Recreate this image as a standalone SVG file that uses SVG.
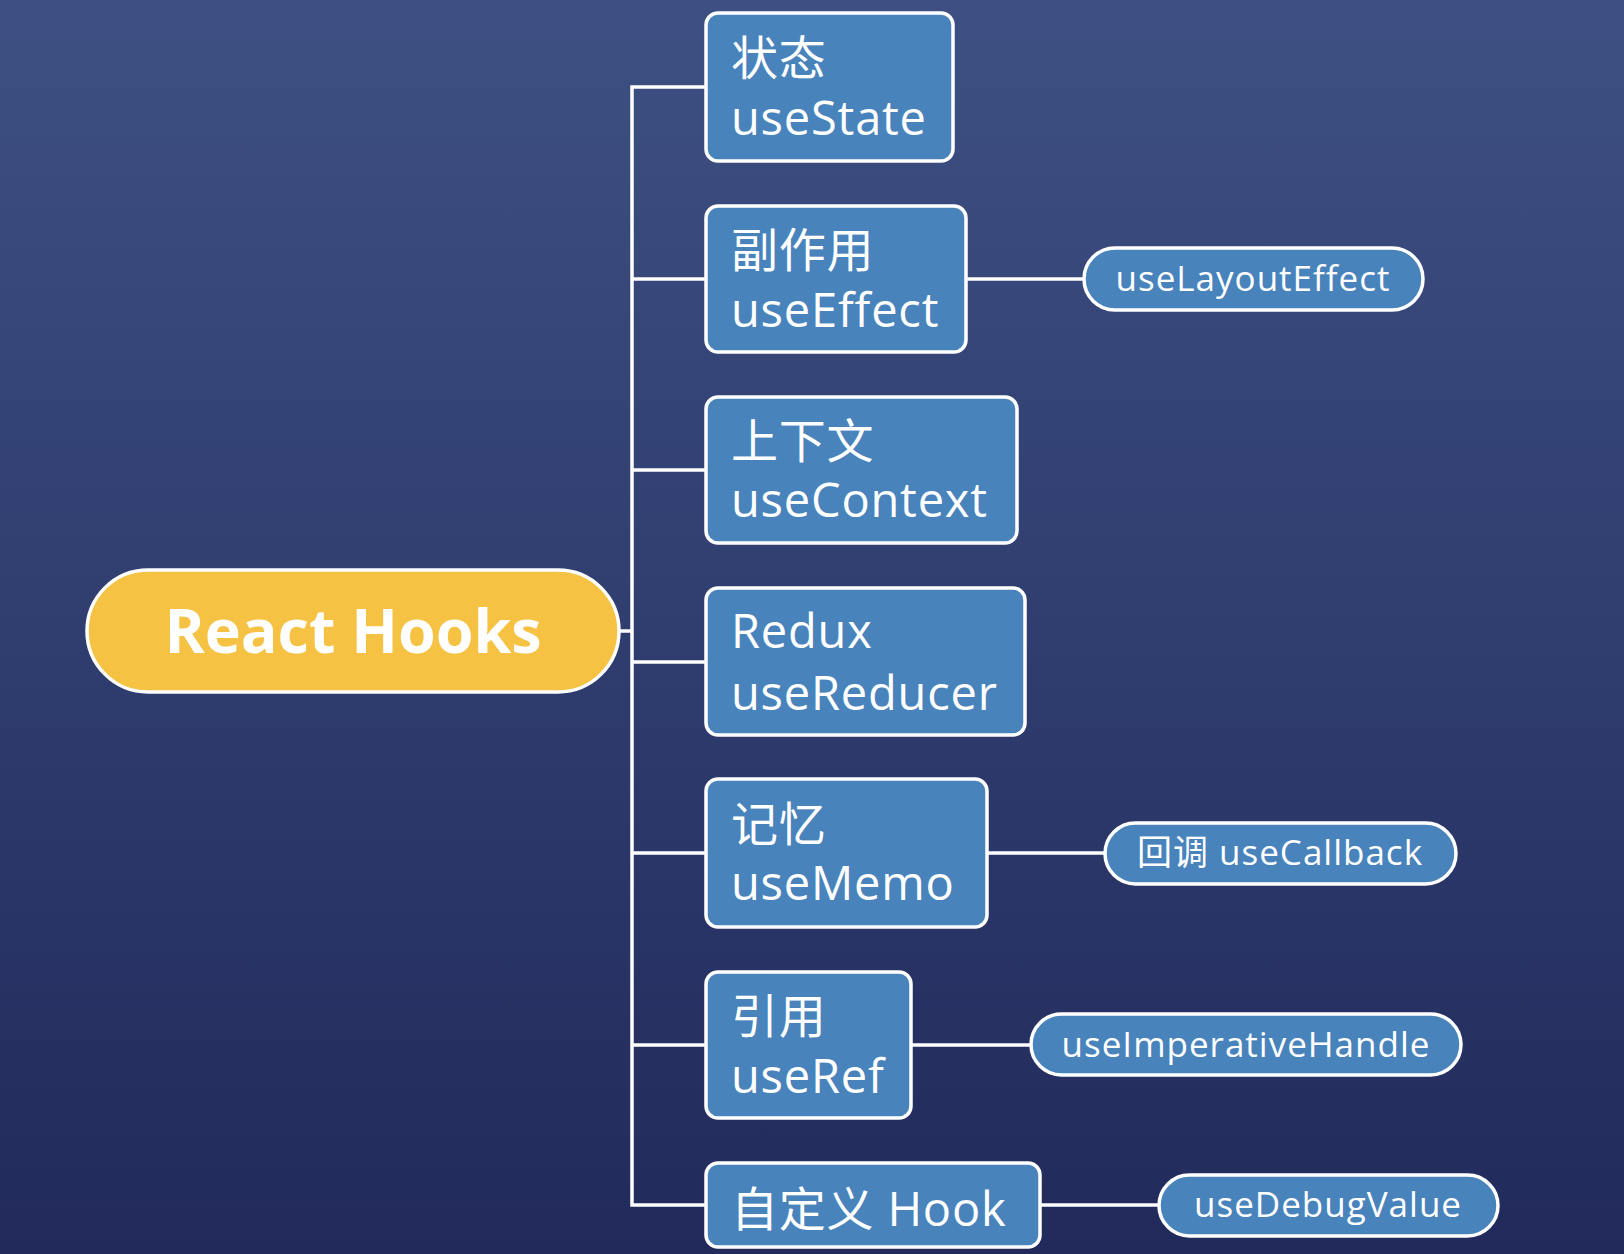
<svg xmlns="http://www.w3.org/2000/svg" width="1624" height="1254" viewBox="0 0 1624 1254">
<defs>
<linearGradient id="bg" x1="0" y1="0" x2="0" y2="1">
<stop offset="0" stop-color="#3e5083"/>
<stop offset="1" stop-color="#212a5b"/>
</linearGradient>
<style>
.box{fill:#4883bc;stroke:#ffffff;stroke-width:3.5}
.pill{fill:#4883bc;stroke:#ffffff;stroke-width:3.5}
.root{fill:#f5c244;stroke:#ffffff;stroke-width:3.5}
.conn{fill:none;stroke:#ffffff;stroke-width:3.5}
.t{fill:#ffffff;font-family:"Open Sans","Noto Sans CJK SC",sans-serif;font-size:47px;letter-spacing:0.8px}
.s{fill:#ffffff;font-family:"Open Sans","Noto Sans CJK SC",sans-serif;font-size:35px;letter-spacing:1px;text-anchor:middle}
.r{fill:#ffffff;font-family:"Open Sans","Noto Sans CJK SC",sans-serif;font-size:61px;font-weight:bold;text-anchor:middle}
</style>
</defs>
<rect x="0" y="0" width="1624" height="1254" fill="url(#bg)"/>
<g id="connectors">
<path class="conn" d="M619,631 H632 M706,87 H632 V1205 H706 M632,279 H706 M632,470 H706 M632,662 H706 M632,853 H706 M632,1045 H706"/>
<path class="conn" d="M966,279 H1084 M987,853 H1105 M911,1045 H1031 M1040,1205 H1159"/>
</g>
<g id="root">
<rect class="root" x="87" y="570" width="532" height="122" rx="61"/>
<text class="r" x="353" y="653">React Hooks</text>
</g>
<g id="useState">
<rect class="box" x="706" y="13" width="247" height="148" rx="12"/>
<text class="t" x="731" y="75">状态</text>
<text class="t" x="731" y="135">useState</text>
</g>
<g id="useEffect">
<rect class="box" x="706" y="206" width="260" height="146" rx="12"/>
<text class="t" x="731" y="267">副作用</text>
<text class="t" x="731" y="327">useEffect</text>
</g>
<g id="useContext">
<rect class="box" x="706" y="397" width="311" height="146" rx="12"/>
<text class="t" x="731" y="458">上下文</text>
<text class="t" x="731" y="517">useContext</text>
</g>
<g id="useReducer">
<rect class="box" x="706" y="588" width="319" height="147" rx="12"/>
<text class="t" x="731" y="648">Redux</text>
<text class="t" x="731" y="710">useReducer</text>
</g>
<g id="useMemo">
<rect class="box" x="706" y="779" width="281" height="148" rx="12"/>
<text class="t" x="731" y="841">记忆</text>
<text class="t" x="731" y="900">useMemo</text>
</g>
<g id="useRef">
<rect class="box" x="706" y="972" width="205" height="146" rx="12"/>
<text class="t" x="731" y="1033">引用</text>
<text class="t" x="731" y="1093">useRef</text>
</g>
<g id="customHook">
<rect class="box" x="706" y="1163" width="334" height="84" rx="12"/>
<text class="t" x="731" y="1226">自定义 Hook</text>
</g>
<g id="useLayoutEffect">
<rect class="pill" x="1084" y="248" width="339" height="62" rx="31"/>
<text class="s" x="1253" y="291">useLayoutEffect</text>
</g>
<g id="useCallback">
<rect class="pill" x="1105" y="823" width="351" height="61" rx="30.5"/>
<text class="s" x="1280" y="865">回调 useCallback</text>
</g>
<g id="useImperativeHandle">
<rect class="pill" x="1031" y="1014" width="430" height="61" rx="30.5"/>
<text class="s" x="1246" y="1057">useImperativeHandle</text>
</g>
<g id="useDebugValue">
<rect class="pill" x="1159" y="1175" width="339" height="61" rx="30.5"/>
<text class="s" x="1328" y="1217">useDebugValue</text>
</g>
</svg>
